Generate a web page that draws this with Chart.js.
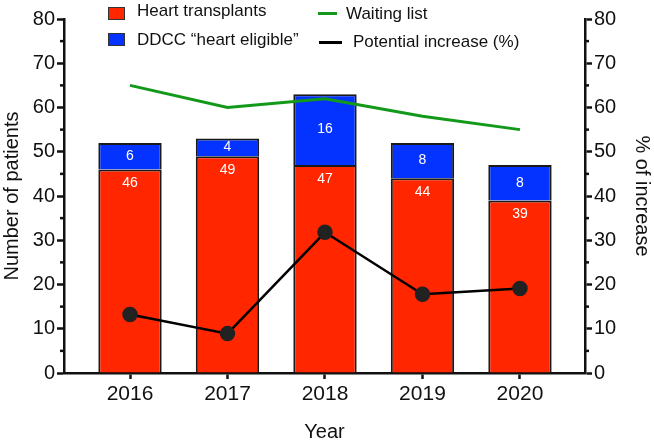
<!DOCTYPE html>
<html>
<head>
<meta charset="utf-8">
<script src="https://cdn.jsdelivr.net/npm/chart.js@4.4.1/dist/chart.umd.min.js"></script>
<style>
  body { margin: 0; background: #fff; overflow: hidden; }
  #wrap { position: relative; width: 654px; height: 446px; }
  #legend div { position: absolute; }
  #legend .txt { font: 17px "Liberation Sans", Arial, sans-serif; color: #111; line-height: 20px; white-space: nowrap; }
  #legend .box { width: 17px; height: 13px; box-sizing: border-box; border: 1px solid #333; }
</style>
</head>
<body>
<div id="wrap">
  <canvas id="chart" width="654" height="446"></canvas>
  <div id="legend">
    <div class="box" style="left:108px;top:7px;background:#ff2600"></div>
    <div class="txt" style="left:137px;top:1px">Heart transplants</div>
    <div class="box" style="left:108px;top:33px;background:#0433ff"></div>
    <div class="txt" style="left:137px;top:30px">DDCC “heart eligible”</div>
    <div style="left:318px;top:12px;width:19px;height:3px;background:#12991a"></div>
    <div class="txt" style="left:346px;top:4px">Waiting list</div>
    <div style="left:319px;top:41px;width:23px;height:3px;background:#000"></div>
    <div class="txt" style="left:353px;top:32px">Potential increase (%)</div>
  </div>
</div>
<script>
const years = [2016, 2017, 2018, 2019, 2020];
const heartTransplants = [46, 49, 47, 44, 39];
const ddccEligible = [6, 4, 16, 8, 8];
const waitingList = [65, 60, 62, 58, 55];
const potentialIncrease = [13.2, 8.9, 31.8, 17.8, 19.1];
const yTicks = [0, 10, 20, 30, 40, 50, 60, 70, 80];
const minorTicks = [5, 15, 25, 35, 45, 55, 65, 75];

const font = { family: "'Liberation Sans', Arial, sans-serif", size: 20 };
const xFont = { family: "'Liberation Sans', Arial, sans-serif", size: 21 };

// white numbers inside the bars
const barLabels = {
    id: 'barLabels',
    afterDatasetsDraw(chart) {
        const ctx = chart.ctx;
        ctx.save();
        ctx.fillStyle = '#fff';
        ctx.font = "14px 'Liberation Sans', Arial, sans-serif";
        ctx.textAlign = 'center';
        ctx.textBaseline = 'middle';
        [0, 1].forEach((di) => {
            const meta = chart.getDatasetMeta(di);
            const values = chart.data.datasets[di].data;
            meta.data.forEach((bar, i) => {
                const y = di === 0 ? bar.y + 14 : (bar.y + bar.base) / 2;
                ctx.fillText(String(values[i]), bar.x, y);
            });
        });
        ctx.restore();
    }
};

// short minor ticks on both y axes
const minorTickMarks = {
    id: 'minorTickMarks',
    afterDraw(chart) {
        const ctx = chart.ctx;
        ctx.save();
        ctx.strokeStyle = '#111';
        ctx.lineWidth = 2.5;
        ['y', 'y1'].forEach((id) => {
            const s = chart.scales[id];
            const x = id === 'y' ? s.right : s.left;
            const dir = id === 'y' ? -1 : 1;
            minorTicks.forEach((v) => {
                const py = s.getPixelForValue(v);
                ctx.beginPath();
                ctx.moveTo(x, py);
                ctx.lineTo(x + dir * 4, py);
                ctx.stroke();
            });
        });
        ctx.restore();
    }
};

new Chart(document.getElementById('chart'), {
    type: 'bar',
    data: {
        labels: years,
        datasets: [
            {
                label: 'Heart transplants',
                data: heartTransplants,
                backgroundColor: '#ff2600',
                borderColor: '#1a1a1a',
                borderWidth: 2,
                stack: 'bars',
                order: 2,
                yAxisID: 'y'
            },
            {
                label: 'DDCC “heart eligible”',
                data: ddccEligible,
                backgroundColor: '#0433ff',
                borderColor: '#1a1a1a',
                borderWidth: 2,
                stack: 'bars',
                order: 2,
                yAxisID: 'y'
            },
            {
                type: 'line',
                label: 'Waiting list',
                data: waitingList,
                borderColor: '#12991a',
                borderWidth: 3,
                pointRadius: 0,
                tension: 0,
                stack: 'wl',
                order: 1,
                yAxisID: 'y'
            },
            {
                type: 'line',
                label: 'Potential increase (%)',
                data: potentialIncrease,
                borderColor: '#000',
                borderWidth: 2.5,
                pointRadius: 6.5,
                pointBackgroundColor: '#222',
                pointBorderColor: '#222',
                tension: 0,
                order: 0,
                yAxisID: 'y1'
            }
        ]
    },
    options: {
        responsive: false,
        animation: false,
        layout: { padding: { top: 19, left: 0, right: 0, bottom: 0 } },
        datasets: { bar: { categoryPercentage: 1, barPercentage: 0.65 } },
        plugins: {
            legend: { display: false },
            tooltip: { enabled: false }
        },
        scales: {
            x: {
                type: 'linear',
                min: 2015.323,
                max: 2020.667,
                offset: false,
                stacked: true,
                afterBuildTicks: (s) => { s.ticks = years.map((v) => ({ value: v })); },
                afterFit: (s) => { s.height = 73; },
                grid: { offset: false, drawOnChartArea: false, tickLength: 6, tickColor: '#111', tickWidth: 2.5 },
                border: { color: '#111', width: 2.5 },
                ticks: { color: '#111', font: xFont, padding: 3, callback: (v) => String(v) },
                title: { display: true, text: 'Year', color: '#111', font: font, padding: { top: 0, bottom: 2 } }
            },
            y: {
                position: 'left',
                min: 0,
                max: 80,
                stacked: true,
                afterBuildTicks: (s) => { s.ticks = yTicks.map((v) => ({ value: v })); },
                afterFit: (s) => { s.width = 64; },
                grid: { drawOnChartArea: false, tickLength: 7, tickColor: '#111', tickWidth: 2.5 },
                border: { color: '#111', width: 2.5 },
                ticks: { color: '#111', font: font, padding: 2 },
                title: { display: true, text: 'Number of patients', color: '#111', font: font, padding: 0 }
            },
            y1: {
                position: 'right',
                min: 0,
                max: 80,
                afterBuildTicks: (s) => { s.ticks = yTicks.map((v) => ({ value: v })); },
                afterFit: (s) => { s.width = 69; },
                grid: { drawOnChartArea: false, tickLength: 7, tickColor: '#111', tickWidth: 2.5 },
                border: { color: '#111', width: 2.5 },
                ticks: { color: '#111', font: font, padding: 2 },
                title: { display: true, text: '% of increase', color: '#111', font: font, padding: 0 }
            }
        }
    },
    plugins: [barLabels, minorTickMarks]
});
</script>
</body>
</html>
